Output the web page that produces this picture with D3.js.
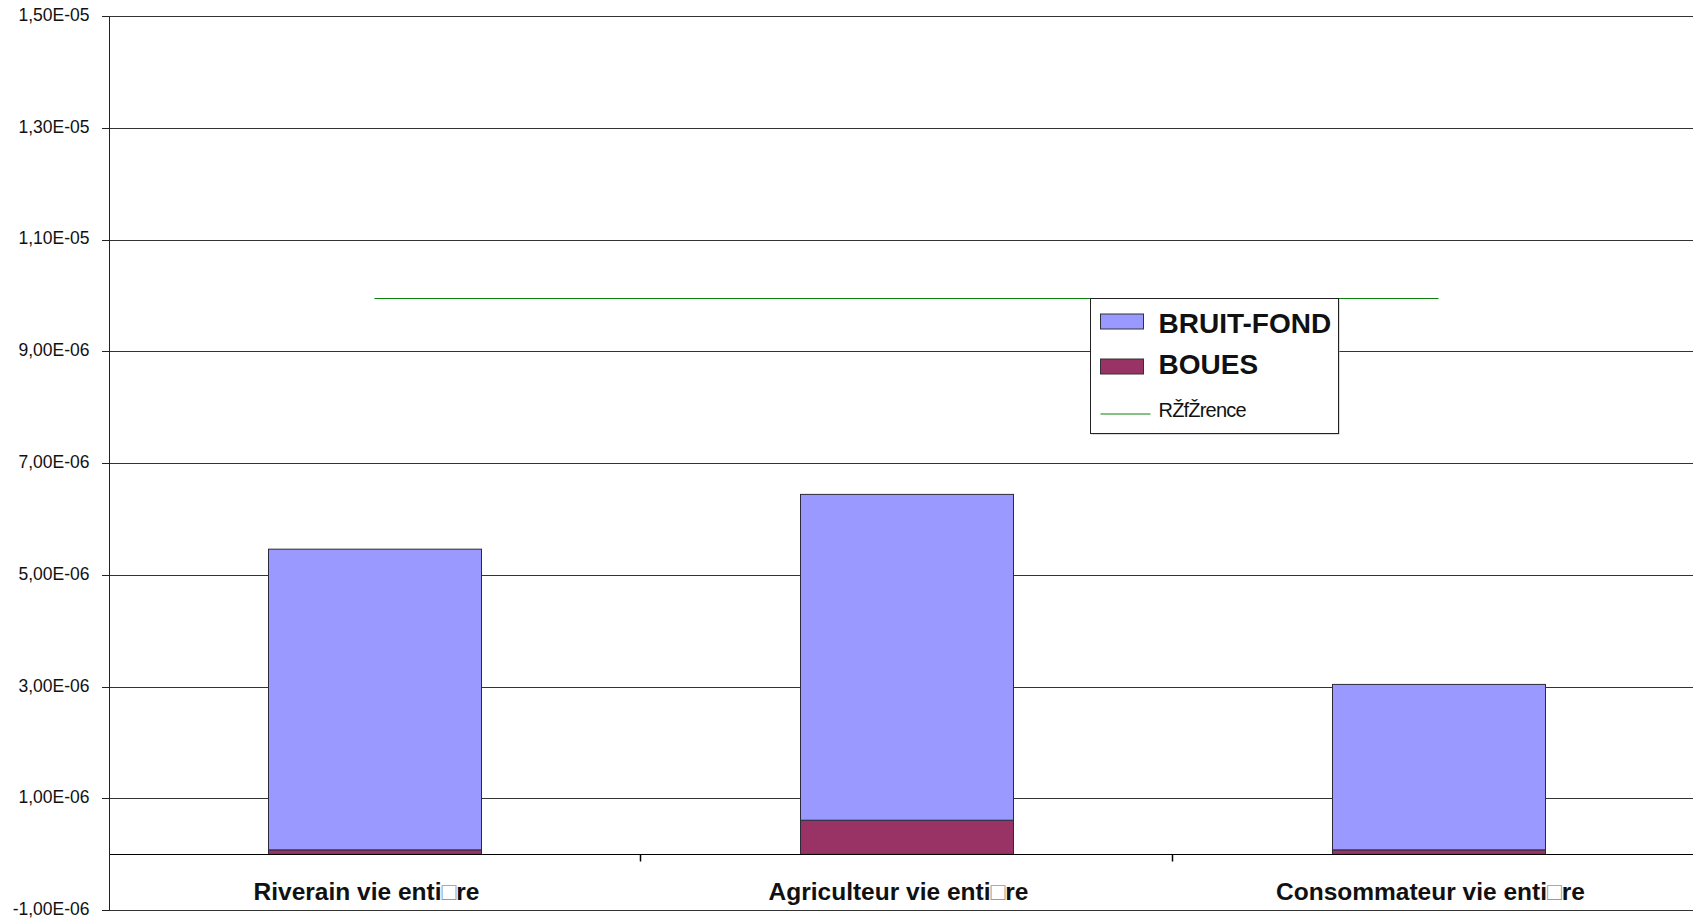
<!DOCTYPE html>
<html>
<head>
<meta charset="utf-8">
<title>Exposition vie entière</title>
<script src="https://cdn.jsdelivr.net/npm/d3@7"></script>
<style>
    body { margin: 0; background: #fff; }
    svg { display: block; font-family: "Liberation Sans", Arial, sans-serif; }
    .grid line { stroke: #333; shape-rendering: crispEdges; }
    .axis path, .axis line { stroke: #222; shape-rendering: crispEdges; }
    .axis text { font-size: 17.5px; fill: #111; }
</style>
</head>
<body>
<div id="chart"></div>
<script>
// --- data ---
const categories = ["Riverain vie enti\u25A1re", "Agriculteur vie enti\u25A1re", "Consommateur vie enti\u25A1re"];
const seriesNames = ["BOUES", "BRUIT-FOND"];
const bouesValues = [0.08e-6, 0.61e-6, 0.08e-6];
const bruitFondValues = [5.38e-6, 5.83e-6, 2.96e-6];
const referenceName = "R\u017Df\u017Drence";
const referenceValues = [9.95e-6, 9.95e-6, 9.95e-6];
const yTickValues = [-1e-6, 1e-6, 3e-6, 5e-6, 7e-6, 9e-6, 1.1e-5, 1.3e-5, 1.5e-5];

const colors = { "BOUES": "#993366", "BRUIT-FOND": "#9999FF" };

// excel style "1,50E-05"
function sciFormat(d) {
    let e = Math.floor(Math.log10(Math.abs(d)));
    let m = d / Math.pow(10, e);
    let sign = e < 0 ? "-" : "+";
    return m.toFixed(2).replace(".", ",") + "E" + sign + String(Math.abs(e)).padStart(2, "0");
}

class StackedVis {

    constructor(_parentElement) {
        this.parentElement = _parentElement;
        this.data = categories.map(function (c, i) {
            return { category: c, "BOUES": bouesValues[i], "BRUIT-FOND": bruitFondValues[i], ref: referenceValues[i] };
        });
        this.initVis();
    }

    initVis() {
        let vis = this;

        vis.totalWidth = 1693;
        vis.totalHeight = 919;

        vis.svg = d3.select("#" + vis.parentElement).append("svg")
            .attr("width", vis.totalWidth)
            .attr("height", vis.totalHeight);

        // plot area runs past the right edge of the window, like the original
        vis.x = d3.scaleBand()
            .domain(categories)
            .range([108.5, 1704.5])
            .paddingInner(0.6)
            .paddingOuter(0.3);

        vis.y = d3.scaleLinear()
            .domain([-1e-6, 1.5e-5])
            .range([910.2, 16]);

        // gridlines
        vis.svg.append("g")
            .attr("class", "grid")
            .selectAll("line")
            .data(yTickValues)
            .enter().append("line")
            .attr("x1", 108.5)
            .attr("x2", vis.totalWidth)
            .attr("y1", d => Math.round(vis.y(d)) + 0.5)
            .attr("y2", d => Math.round(vis.y(d)) + 0.5)
            .attr("stroke", d => d === yTickValues[0] ? "#999" : "#333");

        // stacked bars
        vis.stack = d3.stack().keys(seriesNames);
        vis.stacked = vis.stack(vis.data);

        vis.svg.append("g")
            .selectAll("g")
            .data(vis.stacked)
            .enter().append("g")
            .attr("fill", d => colors[d.key])
            .selectAll("rect")
            .data(d => d)
            .enter().append("rect")
            .attr("x", d => Math.round(vis.x(d.data.category)) + 0.5)
            .attr("width", Math.round(vis.x.bandwidth()))
            .attr("y", d => vis.y(d[1]))
            .attr("height", d => vis.y(d[0]) - vis.y(d[1]))
            .attr("stroke", "#2b2b3a")
            .attr("stroke-width", 1);

        // zero line + category axis ticks between bands
        let y0 = Math.round(vis.y(0)) + 0.5;
        let step = vis.x.step();
        vis.svg.append("line")
            .attr("class", "zero")
            .attr("x1", 108.5).attr("x2", vis.totalWidth)
            .attr("y1", y0).attr("y2", y0)
            .attr("stroke", "#000")
            .attr("shape-rendering", "crispEdges");

        vis.svg.append("g")
            .selectAll("line")
            .data(categories.slice(1))
            .enter().append("line")
            .attr("x1", d => Math.round(vis.x(d) - step * vis.x.paddingInner() / 2) - 0.5)
            .attr("x2", d => Math.round(vis.x(d) - step * vis.x.paddingInner() / 2) - 0.5)
            .attr("y1", y0).attr("y2", y0 + 7)
            .attr("stroke", "#000")
            .attr("stroke-width", 1.5);

        // category labels
        let labels = vis.svg.append("g")
            .selectAll("text")
            .data(categories)
            .enter().append("text")
            .attr("x", d => vis.x(d) + vis.x.bandwidth() / 2 - 8)
            .attr("y", 900)
            .attr("text-anchor", "middle")
            .attr("font-size", "24.5px")
            .attr("font-weight", "bold")
            .attr("fill", "#111");

        labels.each(function (d) {
            let parts = d.split("\u25A1");
            let t = d3.select(this);
            t.append("tspan").text(parts[0]);
            t.append("tspan").text("\u25A1").attr("font-weight", "normal").attr("fill", "#999");
            t.append("tspan").text(parts[1]);
        });

        // reference line
        vis.line = d3.line()
            .x(d => vis.x(d.category) + vis.x.bandwidth() / 2)
            .y(d => Math.round(vis.y(d.ref)) + 0.5);

        vis.svg.append("path")
            .datum(vis.data)
            .attr("d", vis.line)
            .attr("fill", "none")
            .attr("stroke", "#0a800a")
            .attr("stroke-width", 1.2);

        // y axis
        vis.yAxis = d3.axisLeft(vis.y)
            .tickValues(yTickValues)
            .tickFormat(sciFormat)
            .tickSize(7)
            .tickSizeOuter(0)
            .tickPadding(12);

        vis.svg.append("g")
            .attr("class", "axis y-axis")
            .attr("transform", "translate(108.5,0)")
            .call(vis.yAxis)
            .selectAll("text")
            .attr("dy", "0.25em");

        vis.drawLegend();
    }

    drawLegend() {
        let vis = this;

        let legend = vis.svg.append("g")
            .attr("class", "legend")
            .attr("transform", "translate(1090.5,298.5)");

        legend.append("rect")
            .attr("x", 1).attr("y", 1)
            .attr("width", 248).attr("height", 135)
            .attr("fill", "#bbb");

        legend.append("rect")
            .attr("width", 248).attr("height", 135)
            .attr("fill", "#fff")
            .attr("stroke", "#222");

        // bar series listed top-down (reversed like the stack)
        let entries = seriesNames.slice().reverse();
        entries.forEach(function (name, i) {
            legend.append("rect")
                .attr("x", 10).attr("y", 15.5 + i * 45)
                .attr("width", 43).attr("height", 15)
                .attr("fill", colors[name])
                .attr("stroke", "#333");
            legend.append("text")
                .attr("x", 68).attr("y", 34 + i * 41)
                .attr("font-size", "28px")
                .attr("font-weight", "bold")
                .attr("fill", "#111")
                .text(name);
        });

        legend.append("line")
            .attr("x1", 10).attr("x2", 60)
            .attr("y1", 115.5).attr("y2", 115.5)
            .attr("stroke", "#0a800a")
            .attr("stroke-width", 1);

        legend.append("text")
            .attr("x", 68).attr("y", 118.5)
            .attr("font-size", "20px")
            .attr("letter-spacing", "-0.8px")
            .attr("fill", "#111")
            .text(referenceName);
    }
}

new StackedVis("chart");
</script>
</body>
</html>
